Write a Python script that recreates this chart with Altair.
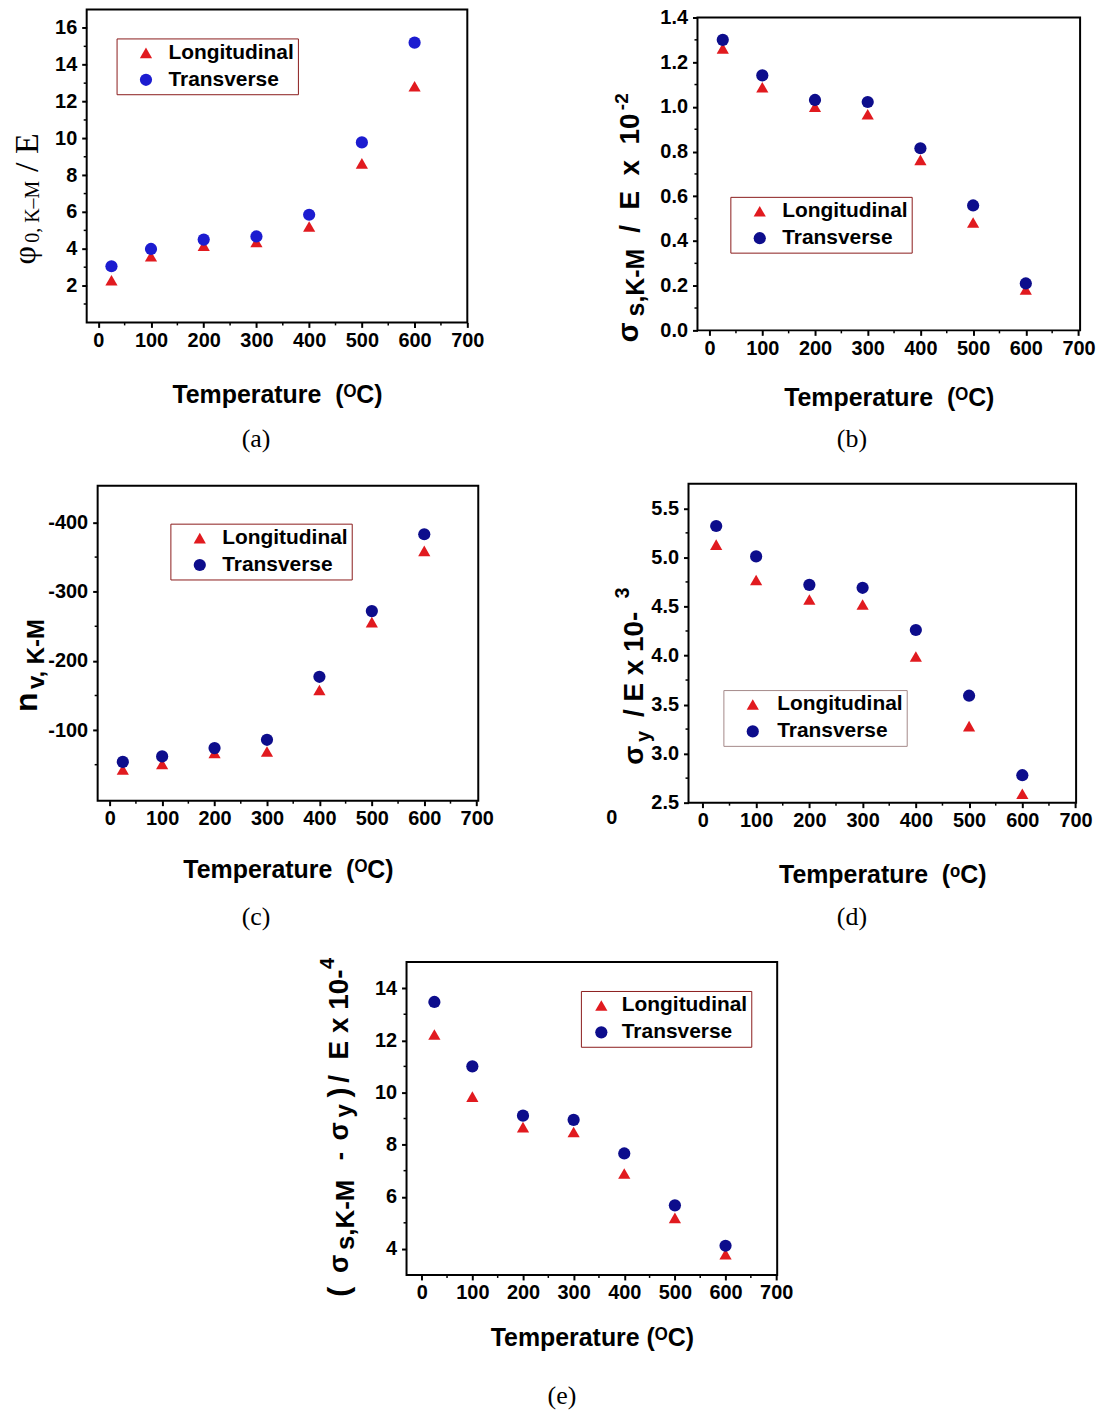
import altair as alt
import pandas as pd

# ---------------- data ----------------
TEMPS = [25, 100, 200, 300, 400, 500, 600]
SERIES = ["Longitudinal", "Transverse"]

A_LONG = [2.29, 3.59, 4.17, 4.37, 5.21, 8.64, 12.83]
A_TRANS = [3.05, 3.99, 4.50, 4.67, 5.85, 9.78, 15.2]

B_LONG = [1.262, 1.088, 1.001, 0.967, 0.763, 0.483, 0.183]
B_TRANS = [1.300, 1.141, 1.031, 1.022, 0.815, 0.559, 0.210]

C_LONG = [-43, -51, -67, -69, -158, -256, -359]
C_TRANS = [-54, -62, -74, -86, -177, -272, -383]

D_LONG = [5.13, 4.77, 4.57, 4.52, 3.99, 3.28, 2.59]
D_TRANS = [5.32, 5.01, 4.72, 4.69, 4.26, 3.59, 2.78]

E_LONG = [12.22, 9.84, 8.67, 8.48, 6.89, 5.19, 3.80]
E_TRANS = [13.47, 11.00, 9.11, 8.95, 7.66, 5.67, 4.12]

X_TICKS = [0, 100, 200, 300, 400, 500, 600, 700]
X_MINOR = [50, 150, 250, 350, 450, 550, 650]

A_TICKS = [2, 4, 6, 8, 10, 12, 14, 16]
A_MINOR = [1, 3, 5, 7, 9, 11, 13, 15]
B_TICKS = [0.0, 0.2, 0.4, 0.6, 0.8, 1.0, 1.2, 1.4]
B_MINOR = [0.1, 0.3, 0.5, 0.7, 0.9, 1.1, 1.3]
C_TICKS = [-400, -300, -200, -100]
C_MINOR = [-350, -250, -150, -50]
D_TICKS = [2.5, 3.0, 3.5, 4.0, 4.5, 5.0, 5.5]
D_MINOR = [2.75, 3.25, 3.75, 4.25, 4.75, 5.25]
E_TICKS = [4, 6, 8, 10, 12, 14]
E_MINOR = [5, 7, 9, 11, 13]

SANS = "Liberation Sans"
SERIF = "Liberation Serif"
RED = "#e11a1f"
ONE = pd.DataFrame({"k": [0]})
DY = 3  # vertical correction of the panels inside their layout boxes


def frame(long, trans):
    return pd.DataFrame({
        "T": TEMPS + TEMPS,
        "V": long + trans,
        "Series": [SERIES[0]] * len(TEMPS) + [SERIES[1]] * len(TEMPS),
    })


def txt(s, x, y, size, weight="bold", font=SANS, angle=0, align="left",
        baseline="alphabetic"):
    kw = dict(text=s, fontSize=size, fontWeight=weight, font=font,
              align=align, baseline=baseline, color="black")
    if angle:
        kw["angle"] = angle
    return alt.Chart(ONE).mark_text(**kw).encode(x=alt.value(x), y=alt.value(y))


def panel(p):
    w, h = p["w"], p["h"]
    ox, oy = p["origin"]
    bx0, by0, bx1, by1 = p["box"]
    xs = alt.Scale(domain=p["xdom"], nice=False, zero=False)
    ys = alt.Scale(domain=p["ydom"], nice=False, zero=False,
                   reverse=p.get("reverse", False))
    lx, ly, so, lo, lstroke = p["legend"]
    leg = alt.Legend(orient="none", legendX=lx, legendY=ly, title=None,
                     labelFont=SANS, labelFontSize=21, labelFontWeight="bold",
                     labelColor="black", symbolSize=150, symbolStrokeWidth=0,
                     symbolOpacity=1, strokeColor=lstroke, fillColor="white",
                     padding=4, symbolOffset=so, labelOffset=lo, rowPadding=5,
                     direction="vertical")
    xaxis = alt.Axis(values=X_TICKS, format="d", title=p["xtitle"],
                     titleFont=SANS, titleFontSize=25, titleFontWeight="bold",
                     titleColor="black", titleY=p["title_y"],
                     titleBaseline="middle", labelFont=SANS, labelFontSize=20,
                     labelFontWeight="bold", labelColor="black", labelPadding=3,
                     tickSize=5, tickWidth=2, tickColor="black", domain=False,
                     grid=False, labelFlush=False, labelOverlap=False)
    yargs = dict(values=p["yticks"], title=None, labelFont=SANS,
                 labelFontSize=20, labelFontWeight="bold", labelColor="black",
                 labelPadding=5, tickSize=5, tickWidth=2, tickColor="black",
                 domain=False, grid=False, labelFlush=False, labelOverlap=False)
    if "yexpr" in p:
        yargs["labelExpr"] = p["yexpr"]
    else:
        yargs["format"] = p["yfmt"]
    yaxis = alt.Axis(**yargs)

    # invisible box fixing the panel's layout extent on the page
    box = alt.Chart(ONE).mark_rect(opacity=0).encode(
        x=alt.value(bx0 - ox), x2=alt.value(bx1 - ox),
        y=alt.value(by0 - oy + DY), y2=alt.value(by1 - oy + DY))

    pts = alt.Chart(frame(p["long"], p["trans"])).mark_point(
        filled=True, size=150, opacity=1, strokeWidth=0
    ).encode(
        x=alt.X("T:Q", scale=xs, axis=xaxis),
        y=alt.Y("V:Q", scale=ys, axis=yaxis),
        color=alt.Color("Series:N", scale=alt.Scale(domain=SERIES, range=[RED, p["blue"]]), legend=leg),
        shape=alt.Shape("Series:N", scale=alt.Scale(domain=SERIES, range=["triangle-up", "circle"]), legend=leg),
    )
    mx = alt.Chart(pd.DataFrame({"T": X_MINOR})).mark_rule(
        color="black", strokeWidth=1.5
    ).encode(x=alt.X("T:Q", scale=xs, axis=xaxis), y=alt.value(h), y2=alt.value(h + 3))
    my = alt.Chart(pd.DataFrame({"V": p["yminor"]})).mark_rule(
        color="black", strokeWidth=1.5
    ).encode(y=alt.Y("V:Q", scale=ys, axis=yaxis), x=alt.value(0), x2=alt.value(-3))

    layers = [pts, mx, my, box]
    for (s, px, py, size, weight, font) in p["ytitle"]:
        layers.append(txt(s, px - ox, py - oy, size, weight, font, angle=270))
    cx, cy = p["caption_pos"]
    layers.append(txt(p["caption"], cx - ox, cy - oy, 26, "normal", SERIF,
                      align="center", baseline="middle"))
    for (s, px, py, size) in p.get("extras", []):
        layers.append(txt(s, px - ox, py - oy, size, "bold", SANS,
                          align="center", baseline="middle"))
    return alt.layer(*layers).properties(
        width=w, height=h,
        view=alt.ViewBackground(stroke="black", strokeWidth=2, fill="white"),
    )


NB = "\u00a0"
PANELS = {
    "a": dict(long=A_LONG, trans=A_TRANS, xdom=[-22, 700], ydom=[0, 17],
              yticks=A_TICKS, yminor=A_MINOR, yfmt="d", w=382, h=314,
              origin=(86, 9), box=(1, 1, 540, 460), blue="#1c1cd0",
              legend=(30, 29, 15, 12, "#8b1c1c"),
              xtitle="Temperature" + NB + " (\u1d3cC)", title_y=72,
              ytitle=[("\u03c6", 34, 265, 32, "normal", SERIF),
                      ("0, K\u2013M", 38, 243, 20, "normal", SERIF),
                      ("/ E", 37, 172, 34, "normal", SERIF)],
              caption="(a)", caption_pos=(256, 440)),
    "b": dict(long=B_LONG, trans=B_TRANS, xdom=[-23, 703], ydom=[0, 1.4],
              yticks=B_TICKS, yminor=B_MINOR, yfmt=".1f", w=384, h=314,
              origin=(697, 17), box=(540, 1, 1105, 460), blue="#0d0d8c",
              legend=(33, 180, 15, 12, "#8b1c1c"),
              xtitle="Temperature" + NB + " (\u1d3cC)", title_y=67,
              ytitle=[("\u03c3", 637, 343, 29, "bold", SANS),
                      ("s,K-M", 643, 317, 25, "bold", SANS),
                      ("/" + NB + " E" + NB + " x" + NB + " 10", 638, 233, 28, "bold", SANS),
                      ("-2", 627, 110, 19, "bold", SANS)],
              caption="(b)", caption_pos=(852, 440)),
    "c": dict(long=C_LONG, trans=C_TRANS, xdom=[-23, 703], ydom=[-453, 2],
              reverse=True, yticks=C_TICKS, yminor=C_MINOR,
              yexpr="'' + datum.value", w=382, h=316,
              origin=(97, 485), box=(1, 461, 540, 940), blue="#0d0d8c",
              legend=(73, 38, 15, 12, "#8b1c1c"),
              xtitle="Temperature" + NB + " (\u1d3cC)", title_y=69,
              ytitle=[("n", 36, 712, 32, "bold", SANS),
                      ("v, K-M", 43, 689, 24, "bold", SANS)],
              caption="(c)", caption_pos=(256, 918)),
    "d": dict(long=D_LONG, trans=D_TRANS, xdom=[-27, 701], ydom=[2.5, 5.75],
              yticks=D_TICKS, yminor=D_MINOR, yfmt=".1f", w=389, h=320,
              origin=(688, 483), box=(540, 461, 1105, 940), blue="#0d0d8c",
              legend=(35, 207, 15, 14, "#a58a8a"),
              xtitle="Temperature" + NB + " (\u1d52C)", title_y=72,
              ytitle=[("\u03c3", 642, 765, 28, "bold", SANS),
                      ("y", 649, 742, 20, "bold", SANS),
                      ("/ E x 10-", 642, 717, 28, "bold", SANS),
                      ("3", 628, 598, 20, "bold", SANS)],
              caption="(d)", caption_pos=(852, 918),
              extras=[("0", 611, 818, 20)]),
    "e": dict(long=E_LONG, trans=E_TRANS, xdom=[-30, 702], ydom=[3, 15],
              yticks=E_TICKS, yminor=E_MINOR, yfmt="d", w=372, h=314,
              origin=(407, 961), box=(1, 941, 1105, 1413), blue="#0d0d8c",
              legend=(175, 29, 6, 10, "#8b1c1c"),
              xtitle="Temperature (\u1d3cC)", title_y=63,
              ytitle=[("(", 349, 1297, 30, "bold", SANS),
                      ("\u03c3", 348, 1273, 27, "bold", SANS),
                      ("s,K-M", 354, 1250, 26, "bold", SANS),
                      ("-", 348, 1160, 25, "bold", SANS),
                      ("\u03c3", 348, 1140, 27, "bold", SANS),
                      ("y", 352, 1117, 24, "bold", SANS),
                      (")", 349, 1097, 30, "bold", SANS),
                      ("/" + NB + " E x 10-", 348, 1082, 28, "bold", SANS),
                      ("4", 334, 968, 20, "bold", SANS)],
              caption="(e)", caption_pos=(563, 1397)),
}


def spacer():
    return alt.Chart(ONE).mark_rect(opacity=0).encode(
        x=alt.value(0), x2=alt.value(1), y=alt.value(0), y2=alt.value(1)
    ).properties(width=1, height=1)


def hc(*c):
    return alt.hconcat(*c, spacing=0).resolve_scale(
        color="independent", shape="independent").resolve_legend(
        color="independent", shape="independent")


def vc(*c):
    return alt.vconcat(*c, spacing=0).resolve_scale(
        color="independent", shape="independent").resolve_legend(
        color="independent", shape="independent")


def wrap(k):
    return vc(spacer(), panel(PANELS[k]))


chart = vc(
    hc(spacer(), wrap("a"), wrap("b")),
    hc(spacer(), wrap("c"), wrap("d")),
    hc(spacer(), wrap("e")),
).properties(
    padding=0,
    background="white",
).configure_view(stroke="transparent", strokeWidth=0)

chart.save("out.html", embed_options={"renderer": "svg", "actions": False})
